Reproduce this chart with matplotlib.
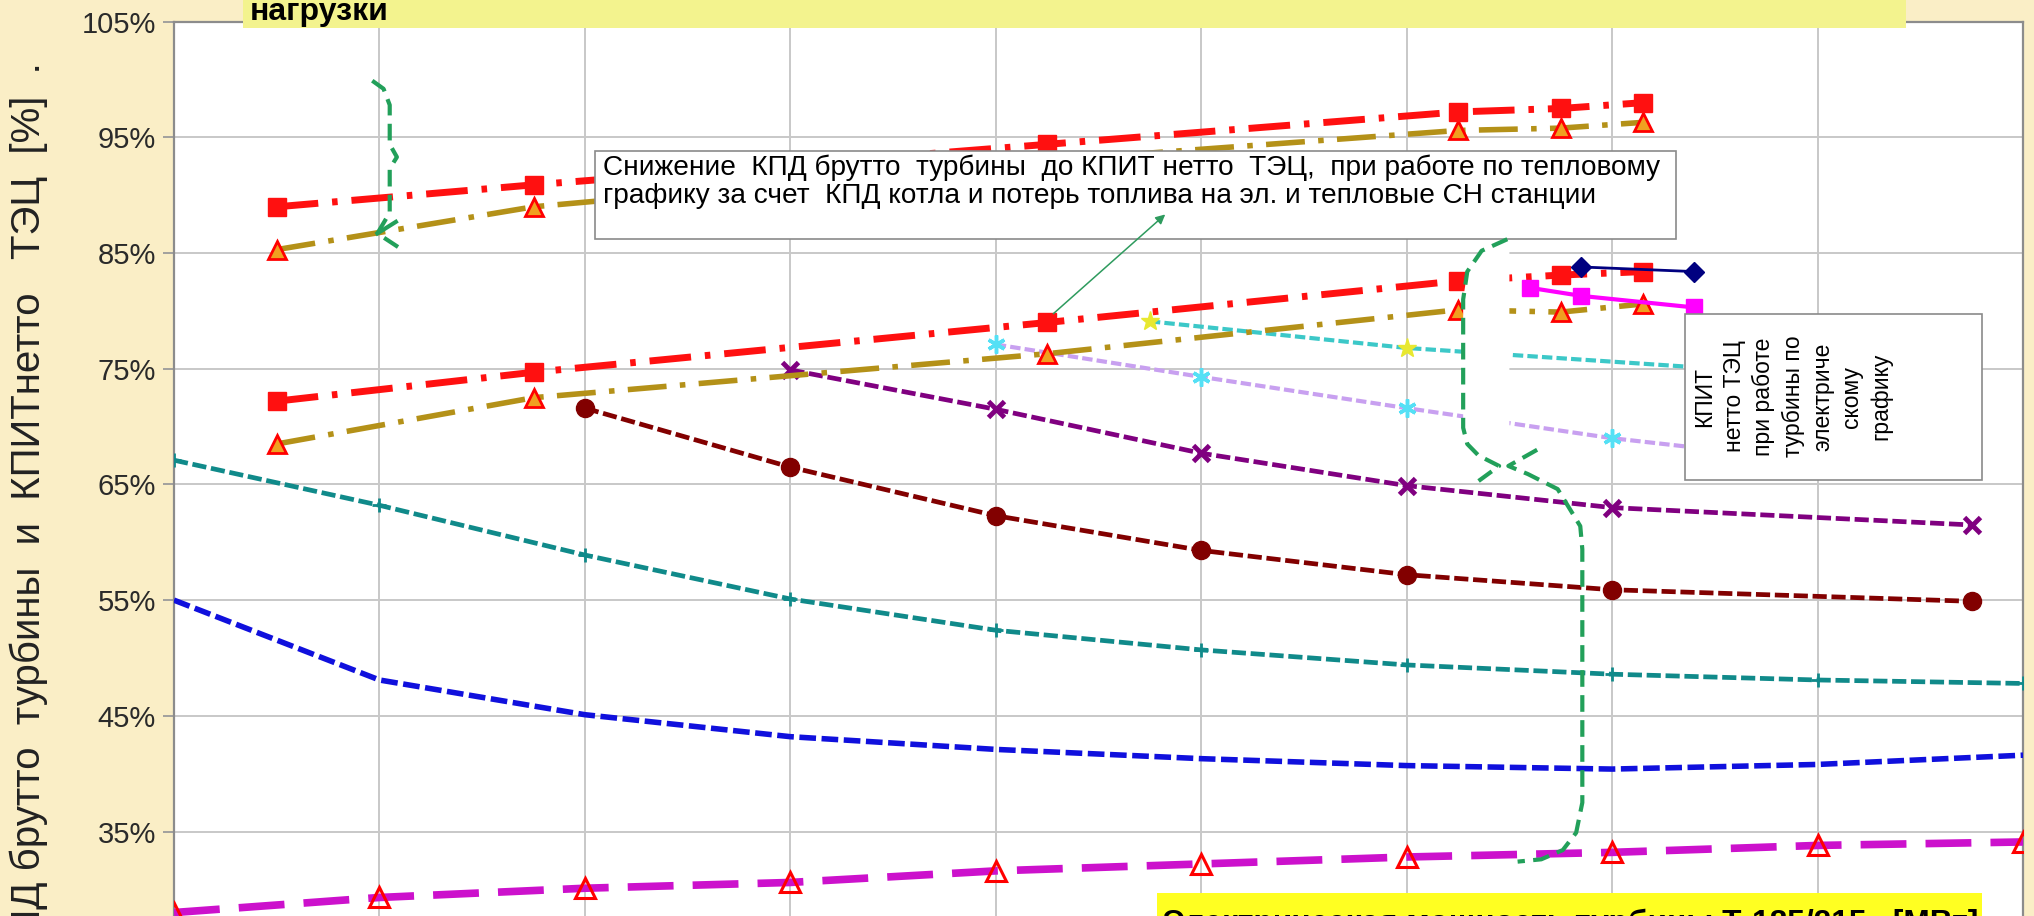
import matplotlib.pyplot as plt
from matplotlib.patches import Rectangle

W, H, DPI = 2034, 916, 100

# электрическая мощность турбины, МВт
p_grid = [40, 60, 80, 100, 120, 140, 160, 180, 200, 220]
y_ticks = [35, 45, 55, 65, 75, 85, 95, 105]
y_tick_labels = ['35%', '45%', '55%', '65%', '75%', '85%', '95%', '105%']

# КПД брутто турбины, %
eta_blue = [55.0, 48.1, 45.1, 43.2, 42.1, 41.3, 40.7, 40.4, 40.8, 41.6]
eta_teal = [67.1, 63.2, 58.9, 55.1, 52.4, 50.7, 49.4, 48.6, 48.1, 47.8]
eta_cond = [28.0, 29.3, 30.1, 30.6, 31.6, 32.2, 32.8, 33.2, 33.8, 34.1]

p_maroon = [80, 100, 120, 140, 160, 180, 215]
eta_maroon = [71.6, 66.5, 62.3, 59.3, 57.2, 55.9, 54.9]

p_purple = [100, 120, 140, 160, 180, 215]
eta_purple = [74.9, 71.5, 67.7, 64.9, 63.0, 61.5]

p_lilac = [120, 140, 160, 180, 187]
eta_lilac = [77.1, 74.3, 71.6, 69.0, 68.3]

p_cyan = [135, 160, 187]
eta_cyan = [79.1, 76.8, 75.2]

# тепловой график: КПД брутто турбины и КПИТ нетто ТЭЦ
p_heat = [50, 75, 125, 165, 175, 183]
eta_red_up = [89.0, 90.9, 94.4, 97.2, 97.5, 98.0]
eta_olive_up = [85.3, 89.0, 93.0, 95.6, 95.8, 96.3]
eta_red_lo = [72.2, 74.7, 79.0, 82.6, 83.1, 83.4]
eta_olive_lo = [68.5, 72.5, 76.3, 80.1, 79.9, 80.6]

# электрический график
p_navy = [177, 188]
eta_navy = [83.8, 83.4]
p_pink = [172, 177, 188]
eta_pink = [82.0, 81.3, 80.3]

# фигурные скобки (МВт, %)
brace1_x = [59.3, 60.4, 61.0, 61.0, 61.7, 61.0, 61.0, 59.8, 62.2]
brace1_y = [99.9, 99.2, 97.8, 94.4, 93.3, 92.3, 88.5, 86.7, 85.3]
brace1_arm_x = [61.6, 59.8]
brace1_arm_y = [87.7, 86.7]
brace2_up_x = [169.8, 167.3, 165.9, 165.5, 165.5, 165.9, 167.0, 169.0, 167.0]
brace2_up_y = [86.2, 85.2, 83.4, 81.0, 69.9, 68.5, 67.5, 66.6, 65.3]
brace2_lo_x = [172.7, 169.9, 171.8, 174.7, 176.9, 177.1, 177.1, 176.5, 175.2, 173.1, 170.8]
brace2_lo_y = [68.0, 66.6, 65.9, 64.6, 61.4, 59.4, 37.5, 34.9, 33.4, 32.6, 32.4]

note_heat = ('Снижение  КПД брутто  турбины  до КПИТ нетто  ТЭЦ,  при работе по тепловому\n'
             'графику за счет  КПД котла и потерь топлива на эл. и тепловые СН станции')
note_el = 'КПИТ\nнетто ТЭЦ\nпри работе\nтурбины по\nэлектриче\nскому\nграфику'
y_label = 'КПД брутто  турбины  и  КПИТнетто   ТЭЦ  [%]  .'
x_label = 'Электрическая мощность турбины Т-185/215,  [МВт]'

sans = ['Liberation Sans', 'DejaVu Sans']
narrow = ['Liberation Sans Narrow', 'Liberation Sans', 'DejaVu Sans']
green = '#22A05A'

fig = plt.figure(figsize=(W / DPI, H / DPI), dpi=DPI, facecolor='#FAEEC6')
left, right, top = 174, 2023, 21.7
ax = fig.add_axes([left / W, 0, (right - left) / W, 1 - top / H])
ax.set_facecolor('white')
ax.set_xlim(40, 220)
ax.set_ylim(27.7, 105)

ax.set_xticks(p_grid)
ax.set_xticklabels([])
ax.tick_params(axis='x', length=0)
ax.set_yticks(y_ticks)
ax.set_yticklabels(y_tick_labels, fontsize=21, color='#2A2A2A', family=narrow)
ax.tick_params(axis='y', direction='out', length=8, width=1.3, color='#9A9A9A', pad=5)
ax.grid(True, color='#C8C8C8', lw=1.4, zorder=0)
ax.set_axisbelow(True)
for s in ['left', 'right', 'top']:
    ax.spines[s].set_color('#8C8C8C')
    ax.spines[s].set_linewidth(1.6)
ax.spines['bottom'].set_visible(False)

# конденсационные и промежуточные режимы
ax.plot(p_grid, eta_cond, color='#CC11CC', lw=5.5, dashes=(6, 2.5), marker='^', ms=14,
        mfc='none', mec='red', mew=2.2, zorder=3)
ax.plot(p_grid, eta_blue, color='#1010DD', lw=4, dashes=(3, 1), zorder=3)
ax.plot(p_grid, eta_teal, color='#108A8A', lw=3.4, dashes=(3, 1), marker='+', ms=10, mew=2, zorder=3)
ax.plot(p_maroon, eta_maroon, color='#820000', lw=3.4, dashes=(3, 1), marker='o', ms=13, zorder=3)
ax.plot(p_purple, eta_purple, color='#800080', lw=3.4, dashes=(3, 1), marker='x', ms=11, mew=3.5, zorder=3)
ax.plot(p_lilac, eta_lilac, color='#C8A0F0', lw=3, dashes=(2.5, 1), marker=(6, 2, 0), ms=13,
        mec='#55E0F5', mew=2.5, markevery=[0, 1, 2, 3], zorder=3)
ax.plot(p_cyan, eta_cyan, color='#3CC8C8', lw=3, dashes=(2.5, 1), marker='*', ms=14,
        mfc='#E8E830', mec='#E8E830', markevery=[0, 1], zorder=3)

# тепловой график
ax.plot(p_heat, eta_olive_up, color='#B49118', lw=4, dashes=(7, 2.4, 1, 2.4), marker='^', ms=13,
        mfc='#F0A020', mec='red', mew=2, zorder=4)
ax.plot(p_heat, eta_red_up, color='#FF1010', lw=5, dashes=(6, 2, 0.8, 2), marker='s', ms=13, zorder=4)
ax.plot(p_heat, eta_olive_lo, color='#B49118', lw=4, dashes=(7, 2.4, 1, 2.4), marker='^', ms=13,
        mfc='#F0A020', mec='red', mew=2, zorder=4)
ax.plot(p_heat, eta_red_lo, color='#FF1010', lw=5, dashes=(6, 2, 0.8, 2), marker='s', ms=13, zorder=4)

# электрический график
ax.plot(p_pink, eta_pink, color='#FF00FF', lw=3, marker='s', ms=12, zorder=4)
ax.plot(p_navy, eta_navy, color='#000080', lw=2, marker='D', ms=10, zorder=5)

# скобки
ax.fill(brace2_up_x[:8] + [170.0, 170.0], brace2_up_y[:8] + [66.6, 86.2], color='white', lw=0, zorder=6)
ax.plot(brace1_x, brace1_y, color=green, lw=3, dashes=(4, 2), zorder=9)
ax.plot(brace1_arm_x, brace1_arm_y, color=green, lw=3, zorder=9)
ax.plot(brace2_up_x, brace2_up_y, color=green, lw=3, dashes=(4, 2), zorder=9)
ax.plot(brace2_lo_x, brace2_lo_y, color=green, lw=3, dashes=(4, 2), zorder=9)

# пояснения
ax.add_patch(Rectangle((81.0, 86.2), 105.2, 7.6, fc='white', ec='#8A8A8A', lw=1.2, zorder=7))
ax.text(81.8, 93.5, note_heat, fontsize=20.2, va='top', ha='left', linespacing=1.1,
        family=sans, zorder=8)
ax.annotate('', xy=(136.7, 88.5), xytext=(125.4, 79.6), zorder=9,
            arrowprops=dict(arrowstyle='-|>', color='#2E9B5E', lw=1.1, mutation_scale=14))
ax.add_patch(Rectangle((187.1, 65.4), 28.9, 14.3, fc='white', ec='#8A8A8A', lw=1.2, zorder=7))
ax.text(197.6, 72.6, note_el, fontsize=16.5, rotation=90, ha='center', va='center',
        multialignment='center', linespacing=1.35, family=sans, zorder=8)

# подписи на поле рисунка
fig.patches.append(Rectangle((243 / W, 1 - 28 / H), (1906 - 243) / W, 28 / H,
                             transform=fig.transFigure, fc='#F3F38E', ec='none', zorder=10))
fig.text(250 / W, 1 - 20 / H, 'нагрузки', fontsize=23, weight='bold', va='baseline',
         family=sans, zorder=11)
fig.patches.append(Rectangle((1157 / W, 0), (1982 - 1157) / W, 23 / H,
                             transform=fig.transFigure, fc='#FFFF22', ec='none', zorder=10))
fig.text(1163 / W, 1 - 932 / H, x_label, fontsize=22.8, weight='bold', va='baseline',
         family=sans, zorder=11)
fig.text(29 / W, 1 - 62 / H, y_label, rotation=90, ha='center', va='top', fontsize=29,
         color='#222222', family=sans)

fig.savefig('out.png', dpi=DPI, facecolor=fig.get_facecolor())
